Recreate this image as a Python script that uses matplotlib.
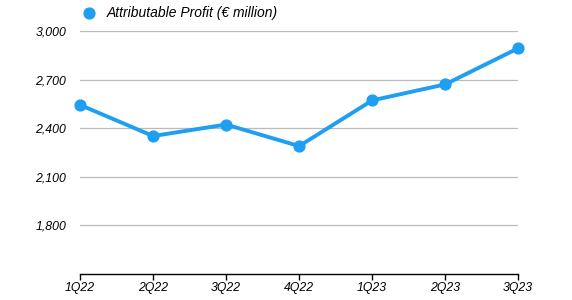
import matplotlib.pyplot as plt

# data
quarters = ["1Q22", "2Q22", "3Q22", "4Q22", "1Q23", "2Q23", "3Q23"]
profit = [2543, 2351, 2422, 2289, 2571, 2670, 2893]
yticks = [1800, 2100, 2400, 2700, 3000]

plt.rcParams["font.family"] = ["Liberation Sans", "DejaVu Sans"]

fig = plt.figure(figsize=(5.72, 3.0), dpi=100)
ax = fig.add_axes([0.14, 0.087, 0.766, 0.81])

color = "#1e9ff2"
x = list(range(len(quarters)))
ax.plot(x, profit, color=color, linewidth=2.8, marker="o", markersize=7.8,
        label="Attributable Profit (€ million)", clip_on=False, zorder=3)

ax.set_xlim(0, len(quarters) - 1)
ax.set_ylim(1500, 3000)
ax.set_yticks(yticks)
ax.set_yticklabels([f"{v:,}" for v in yticks], fontstyle="italic", fontsize=8.8)
ax.set_xticks(x)
ax.set_xticklabels(quarters, fontstyle="italic", fontsize=8.8)

ax.grid(axis="y", color="#bbbbbb", linewidth=0.9)
ax.set_axisbelow(True)
for s in ["top", "right", "left"]:
    ax.spines[s].set_visible(False)
ax.spines["bottom"].set_linewidth(1.0)
ax.tick_params(axis="y", length=0, pad=10)
ax.tick_params(axis="x", length=4, width=1.0, pad=2)

leg = ax.legend(loc="lower left", bbox_to_anchor=(-0.008, 1.02), frameon=False,
                prop={"style": "italic", "size": 10}, handlelength=1.0,
                handletextpad=0.8, borderaxespad=0)
for line in leg.get_lines():
    line.set_linestyle("")

plt.savefig("out.png", dpi=100)
